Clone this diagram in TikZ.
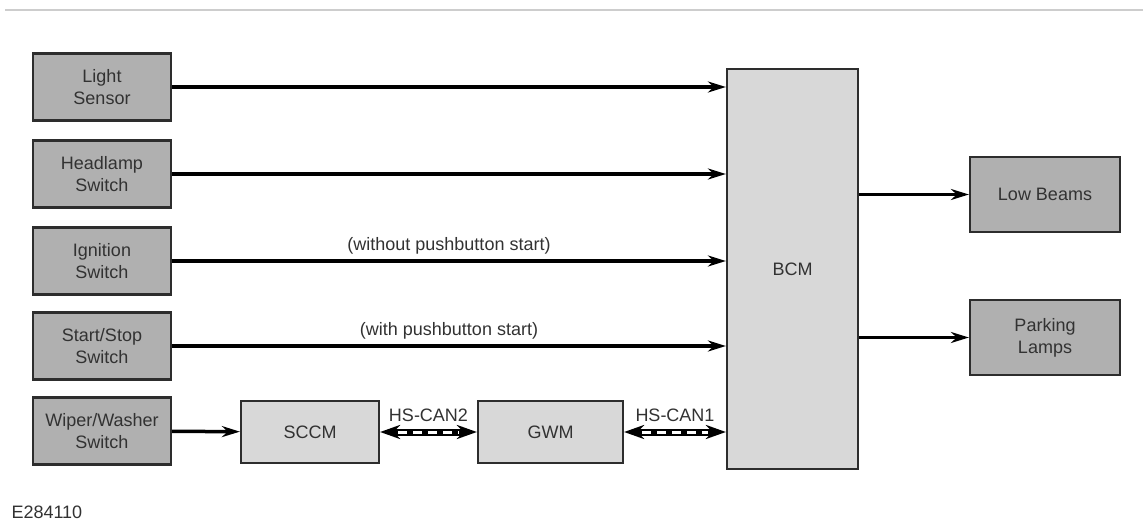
\documentclass[tikz,border=0pt]{standalone}
\usepackage{fontspec}
\setmainfont{Liberation Sans}
\usepackage{tikz}
\usetikzlibrary{arrows.meta, positioning, calc}
\definecolor{boxdark}{RGB}{176,176,176}
\definecolor{boxlight}{RGB}{216,216,216}
\definecolor{edgegray}{RGB}{45,45,45}
\definecolor{textgray}{RGB}{50,50,50}
\definecolor{rulegray}{RGB}{205,205,205}

\begin{document}
\begin{tikzpicture}[
    x=1pt, y=-1pt,
    every node/.style={font=\fontsize{18}{22}\selectfont, text=textgray},
    srcbox/.style={rectangle, draw=edgegray, line width=2.2pt, fill=boxdark, minimum width=138pt, minimum height=67pt, align=center, inner sep=0pt},
    modbox/.style={rectangle, draw=edgegray, line width=2.2pt, fill=boxlight, align=center, inner sep=0pt},
    sig/.style={-{Stealth[length=18pt, width=11pt]}, line width=3.5pt, black},
    canbus/.style={{Stealth[length=20pt, width=14pt]}-{Stealth[length=20pt, width=14pt]}, line width=7pt, black,
        postaction={draw=white, -, line width=3pt, dash pattern=on 9pt off 6pt, shorten >=18pt, shorten <=18pt}}
]
\useasboundingbox (0,0) rectangle (1143,527);
\draw[rulegray, line width=2pt] (5,10) -- (1143,10);

% inputs
\node[srcbox] (light) at (102,87) {Light\\Sensor};
\node[srcbox] (head) at (102,174) {Headlamp\\Switch};
\node[srcbox] (ign) at (102,261) {Ignition\\Switch};
\node[srcbox] (start) at (102,346) {Start/Stop\\Switch};
\node[srcbox] (wiper) at (102,431) {Wiper/Washer\\Switch};

% modules
\node[modbox, minimum width=131pt, minimum height=400pt] (bcm) at (792.5,269) {BCM};
\node[modbox, minimum width=138pt, minimum height=62pt] (sccm) at (310,432) {SCCM};
\node[modbox, minimum width=145pt, minimum height=62pt] (gwm) at (550.5,432) {GWM};

% outputs
\node[srcbox, minimum width=150pt, minimum height=75pt] (low) at (1045,194.5) {Low Beams};
\node[srcbox, minimum width=150pt, minimum height=75pt] (park) at (1045,337.5) {Parking\\Lamps};

\draw[sig] (light) -- (light -| bcm.west);
\draw[sig] (head) -- (head -| bcm.west);
\draw[sig] (ign) -- (ign -| bcm.west) node[midway, above=2pt] {(without pushbutton start)};
\draw[sig] (start) -- (start -| bcm.west) node[midway, above=2pt] {(with pushbutton start)};
\draw[sig] (wiper) -- (sccm);
\draw[sig] (low -| bcm.east) -- (low);
\draw[sig] (park -| bcm.east) -- (park);

\draw[canbus] (sccm) -- (gwm) node[midway, above=3pt] {HS-CAN2};
\draw[canbus] (gwm) -- (gwm -| bcm.west) node[midway, above=3pt] {HS-CAN1};

\node[anchor=west] (fig) at (8,512) {E284110};
\end{tikzpicture}
\end{document}
